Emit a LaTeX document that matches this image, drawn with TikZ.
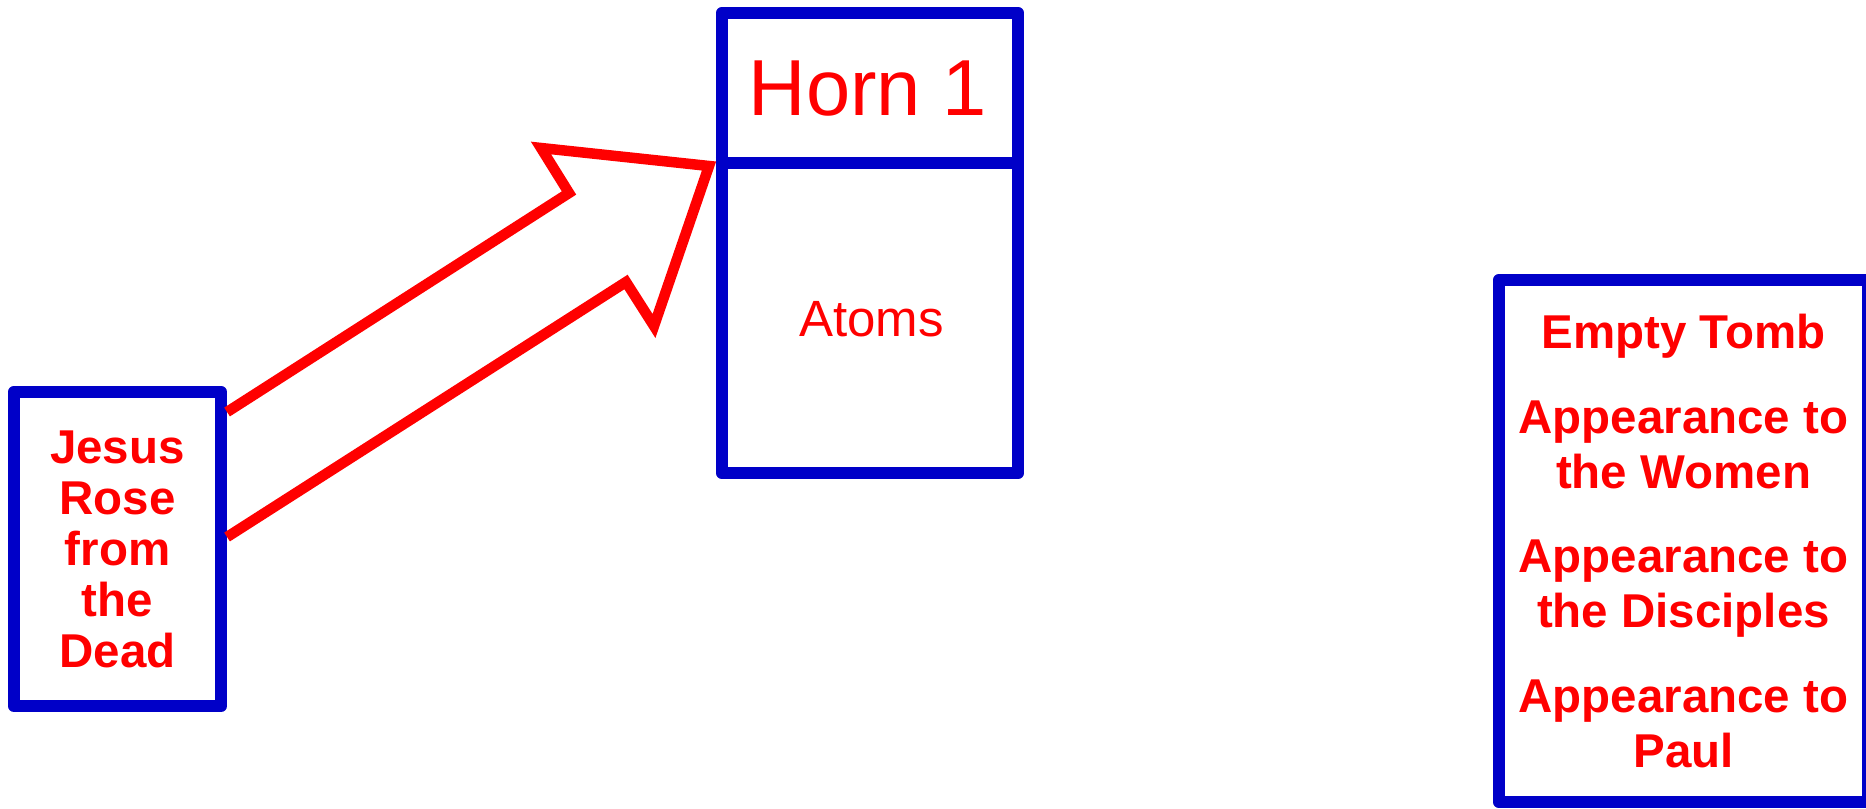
\documentclass[tikz,border=0pt]{standalone}
\usepackage{fontspec}
\setmainfont{Liberation Sans}

\definecolor{boxblue}{RGB}{0,0,200}
\definecolor{textred}{RGB}{255,0,0}

\begin{document}
\begin{tikzpicture}[x=0.01cm,y=0.01cm,
  bluepen/.style={draw=boxblue, line width=0.12cm, line join=round},
  panel/.style={bluepen, inner sep=0pt},
  redtext/.style={text=textred, align=center, inner sep=0pt},
  fatarrow/.style={draw=textred, line width=0.105cm, line join=miter}]

\useasboundingbox (0,0) rectangle (1866,808);

% -------------------------------------------------
% Left box
% -------------------------------------------------
\node[panel, redtext, minimum width=2.07cm, minimum height=3.14cm,
      font=\fontsize{13.5}{14.5}\selectfont\bfseries] (rose) at (117.5,259)
      {Jesus\\Rose\\from\\the\\Dead};

% -------------------------------------------------
% Horn box (title + body)
% -------------------------------------------------
\node[panel, minimum width=2.96cm, minimum height=4.6cm] (horn) at (870,565) {};
\draw[bluepen] (horn.west |- 0,645) -- (horn.east |- 0,645); % divider

\node[redtext, font=\fontsize{22.6}{26}\selectfont] (hornname) at (868,719.5) {Horn 1};
\node[redtext, font=\fontsize{14.5}{17}\selectfont] (atoms) at (871.5,488.5) {Atoms};

% -------------------------------------------------
% Right box (cut by the page edge)
% -------------------------------------------------
\node[panel, redtext, minimum width=3.69cm, minimum height=5.22cm,
      font=\fontsize{13.5}{15.6}\selectfont\bfseries] (proofs) at (1683.5,267)
      {Empty Tomb\\[8.5pt]Appearance to\\the Women\\[8.5pt]Appearance to\\the Disciples\\[8.5pt]Appearance to\\Paul};

% -------------------------------------------------
% Fat arrow : rose -> horn
% -------------------------------------------------
\coordinate (tailU) at (rose.east |- 0,396);
\coordinate (notchU) at (569,615);
\coordinate (barbU) at (541,660);
\coordinate (tip) at (709,642);
\coordinate (barbL) at (654,482);
\coordinate (notchL) at (626,526);
\coordinate (tailL) at (rose.east |- 0,271);

\draw[fatarrow] (tailU) -- (notchU) -- (barbU) -- (tip) -- (barbL) -- (notchL) -- (tailL);

\end{tikzpicture}
\end{document}
